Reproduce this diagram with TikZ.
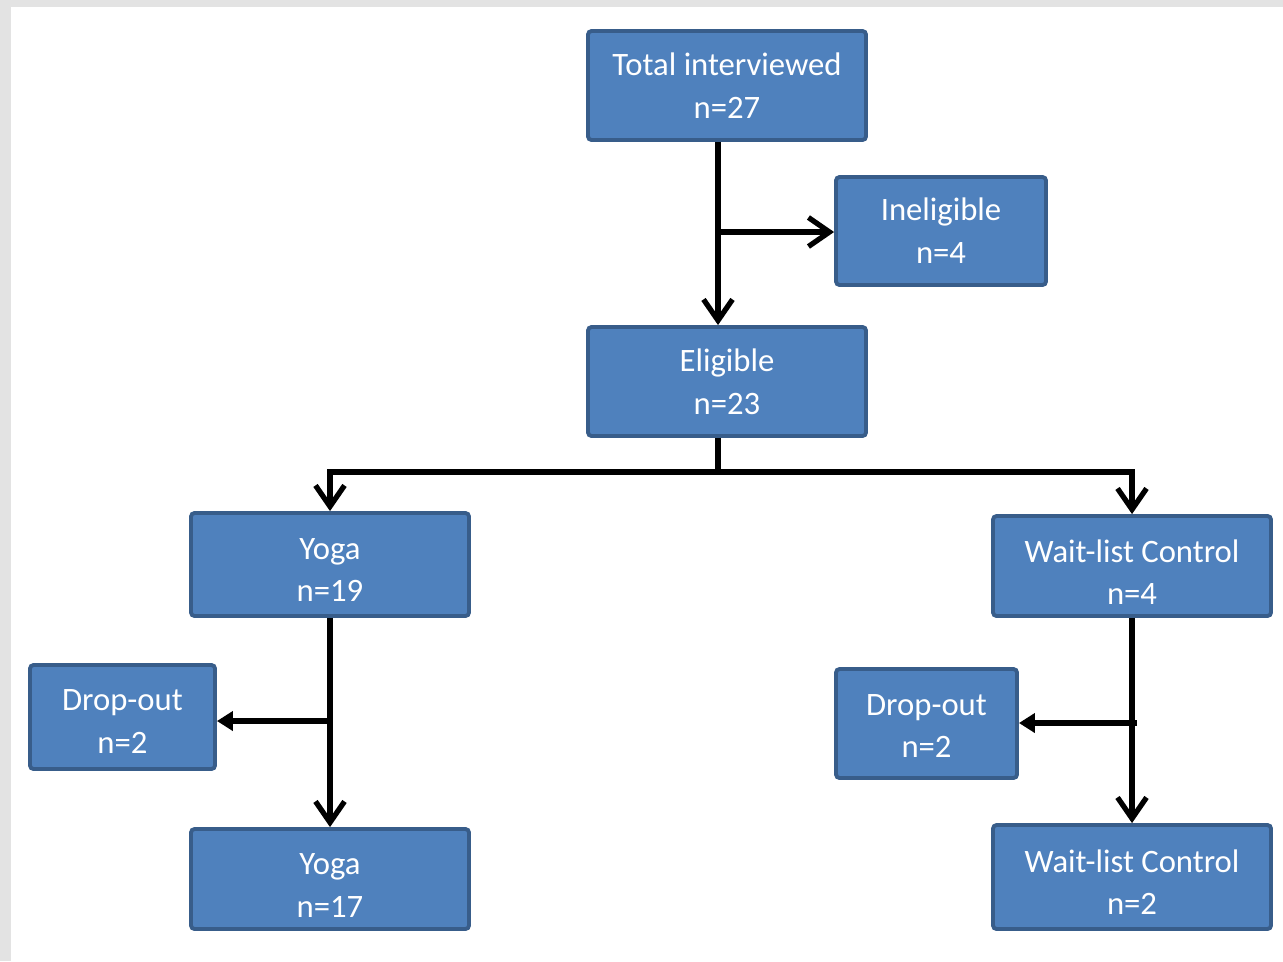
\documentclass[tikz,border=0pt]{standalone}
\usepackage{fontspec}
\setmainfont{Carlito}
\usetikzlibrary{arrows.meta}
\definecolor{boxblue}{HTML}{4F81BD}
\definecolor{boxedge}{HTML}{385D8A}

\begin{document}
\begin{tikzpicture}[every node/.style={font=\fontsize{9.3}{12.2}\selectfont},
	stage/.style={draw=boxedge, line width=1.1pt, fill=boxblue, text=white, align=center, inner sep=0pt, rounded corners=1pt},
	flow/.style={line width=1.5pt, -{Straight Barb[length=2.1mm,width=2.9mm,line width=1.5pt]}},
	drop/.style={line width=1.5pt, -{Triangle[length=1.6mm,width=1.9mm]}}]
	\useasboundingbox (0,0) rectangle (12.83,-9.61);
	\fill[gray!22] (0,0) rectangle (12.83,-9.61);
	\fill[white] (0.11,-0.07) rectangle (12.83,-9.61);
	% top of the chart
	\node[stage, minimum width=2.78cm, minimum height=1.09cm] (total) at (7.27,-0.855) {Total interviewed\\ n=27};
	\node[stage, minimum width=2.10cm, minimum height=1.08cm] (inelig) at (9.41,-2.31) {Ineligible\\ n=4};
	\node[stage, minimum width=2.78cm, minimum height=1.09cm] (elig) at (7.27,-3.815) {Eligible\\ n=23};
	% the two arms (the rule lowers the text a little)
	\node[stage, minimum width=2.78cm, minimum height=1.03cm] (yoga) at (3.30,-5.645) {\rule{0pt}{0.32cm}Yoga\\ n=19};
	\node[stage, minimum width=2.78cm, minimum height=1.00cm] (wait) at (11.32,-5.66) {\rule{0pt}{0.35cm}Wait-list Control\\ n=4};
	\node[stage, minimum width=1.85cm, minimum height=1.04cm] (dropY) at (1.225,-7.17) {\rule{0pt}{0.30cm}Drop-out\\ n=2};
	\node[stage, minimum width=2.78cm, minimum height=1.00cm] (yogaEnd) at (3.30,-8.79) {\rule{0pt}{0.34cm}Yoga\\ n=17};
	\node[stage, minimum width=1.81cm, minimum height=1.09cm] (dropW) at (9.265,-7.235) {\rule{0pt}{0.26cm}Drop-out\\ n=2};
	\node[stage, minimum width=2.78cm, minimum height=1.04cm] (waitEnd) at (11.32,-8.77) {\rule{0pt}{0.33cm}Wait-list Control\\ n=2};
	% connectors
	\coordinate (j1) at (7.18,-2.32);
	\coordinate (j2) at (7.18,-4.72);
	\coordinate (jY) at (3.31,-7.21);
	\coordinate (jW) at (11.37,-7.23);
	\draw[flow] (j1 |- total.south) -- (j1 |- elig.north);
	\draw[flow] (j1) -- (j1 -| inelig.west);
	\draw[line width=1.5pt] (j2 |- elig.south) -- (j2);
	\draw[flow] (j2) -| (yoga.north);
	\draw[flow] (j2) -| (wait.north);
	\draw[flow] (yoga.south) -- (yogaEnd.north);
	\draw[drop] (jY) -- (jY -| dropY.east);
	\draw[flow] (wait.south) -- (waitEnd.north);
	\draw[drop] (jW) -- (jW -| dropW.east);
\end{tikzpicture}
\end{document}
